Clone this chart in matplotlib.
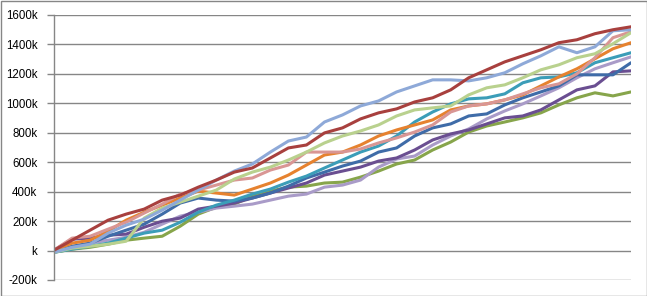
import matplotlib
matplotlib.use("Agg")
import matplotlib.pyplot as plt
from matplotlib.patches import Rectangle
from matplotlib.ticker import FixedLocator

# sample index (category) shared by all series
steps = list(range(33))

# values in thousands
green = [-12, 9, 22, 43, 70, 84, 97, 165, 247, 294, 315, 369, 403, 430, 437, 458, 464,
         498, 539, 587, 614, 682, 736, 804, 845, 872, 900, 934, 988, 1036, 1070, 1049, 1076]
purple = [2, 77, 84, 104, 111, 158, 199, 220, 281, 301, 322, 356, 390, 424, 458, 512, 539,
          566, 607, 628, 682, 750, 791, 818, 859, 900, 913, 954, 1022, 1090, 1117, 1212, 1219]
blue = [-12, 29, 50, 97, 138, 179, 247, 322, 356, 342, 335, 356, 390, 437, 492, 532, 573,
        607, 668, 696, 777, 832, 859, 913, 927, 988, 1036, 1076, 1117, 1192, 1192, 1192, 1274]
lilac = [-12, 22, 50, 70, 90, 124, 179, 233, 260, 288, 301, 315, 342, 369, 383, 430, 444,
         478, 566, 621, 641, 716, 777, 825, 893, 947, 995, 1049, 1104, 1172, 1233, 1274, 1314]
teal = [-12, 9, 29, 50, 84, 118, 138, 192, 260, 308, 342, 383, 417, 464, 505, 560, 614,
        668, 709, 777, 872, 940, 995, 1029, 1036, 1063, 1138, 1172, 1178, 1206, 1274, 1308, 1342]
orange = [2, 50, 70, 131, 206, 260, 308, 356, 403, 390, 376, 417, 458, 512, 580, 648, 668,
          716, 777, 818, 852, 886, 954, 981, 995, 1022, 1056, 1117, 1178, 1233, 1301, 1369, 1410]
pink = [2, 84, 97, 145, 192, 254, 315, 383, 410, 444, 478, 492, 546, 580, 668, 668, 668,
        689, 730, 764, 804, 852, 940, 981, 995, 1022, 1063, 1104, 1131, 1199, 1308, 1444, 1484]
light_green = [-12, 16, 29, 43, 63, 220, 288, 328, 369, 410, 485, 532, 566, 614, 668, 730, 777,
               811, 852, 913, 954, 968, 981, 1056, 1104, 1124, 1172, 1226, 1260, 1308, 1335, 1403, 1478]
light_blue = [-12, 22, 43, 118, 172, 213, 274, 342, 410, 478, 539, 587, 668, 743, 770, 872, 920,
              981, 1015, 1076, 1117, 1158, 1158, 1151, 1172, 1206, 1267, 1321, 1382, 1342, 1382, 1491, 1498]
red = [2, 70, 138, 206, 247, 281, 342, 376, 430, 478, 532, 560, 628, 696, 716, 798, 832,
       893, 934, 961, 1008, 1036, 1090, 1172, 1226, 1280, 1321, 1362, 1410, 1430, 1471, 1498, 1518]

series = [
    (green, "#87A54B"),
    (lilac, "#A99BC8"),
    (purple, "#6A4E91"),
    (blue, "#3F6CA8"),
    (teal, "#3B9DB8"),
    (orange, "#E6822F"),
    (pink, "#D99694"),
    (light_green, "#B9D18E"),
    (light_blue, "#8EA9D8"),
    (red, "#A8403E"),
]

y_ticks = [-200, 0, 200, 400, 600, 800, 1000, 1200, 1400, 1600]
y_labels = ["-200k", "k", "200k", "400k", "600k", "800k", "1000k", "1200k", "1400k", "1600k"]

W, H = 647, 296
fig = plt.figure(figsize=(W / 100, H / 100), dpi=100)
ax = fig.add_axes([54 / W, 1 - 280 / H, (631 - 54) / W, (280 - 14.7) / H])

for vals, col in series:
    ax.plot(steps, vals, color=col, lw=2.2, solid_joinstyle="round", solid_capstyle="round")

ax.set_xlim(steps[0], steps[-1])
ax.set_ylim(-200, 1600)
ax.yaxis.set_major_locator(FixedLocator(y_ticks))
ax.set_yticklabels(y_labels, fontfamily="Liberation Sans")
ax.set_xticks([])
ax.grid(axis="y", color="#868686", lw=1.0)
ax.set_axisbelow(True)
for s in ["top", "right", "bottom"]:
    ax.spines[s].set_visible(False)
ax.spines["left"].set_color("#868686")
ax.spines["left"].set_linewidth(1.0)
ax.tick_params(axis="y", direction="out", length=5, width=1, color="#868686",
               labelsize=8.3, labelcolor="#000000", pad=7)

fig.patches.append(Rectangle((0.5 / W, 0.5 / H), 1 - 1.0 / W, 1 - 1.0 / H, transform=fig.transFigure,
                             fill=False, edgecolor="#868686", lw=1.0))

fig.savefig("out.png", dpi=100)
